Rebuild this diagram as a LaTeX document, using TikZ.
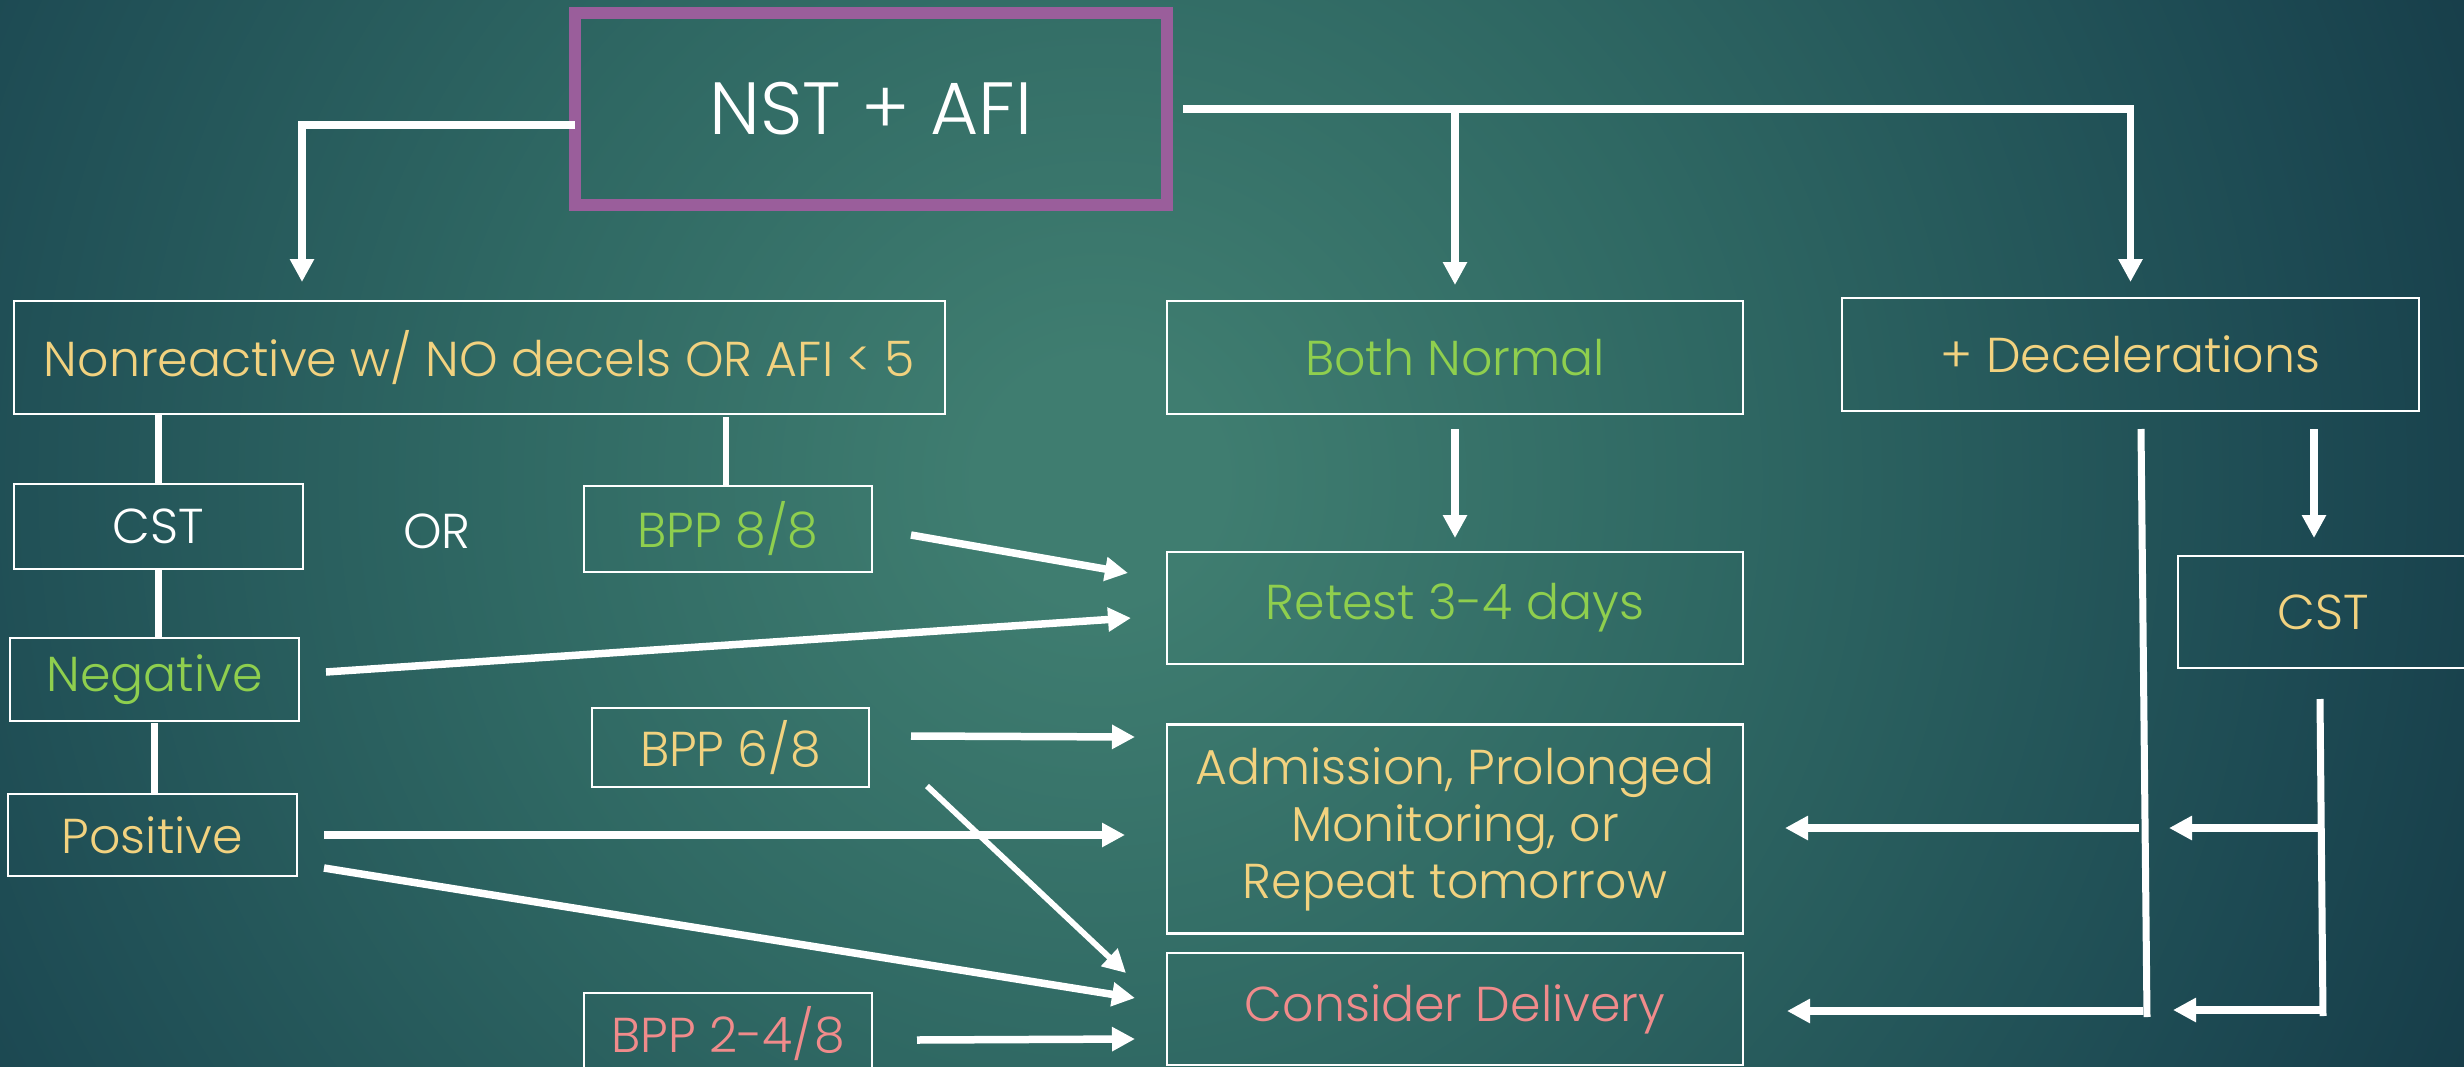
\documentclass[tikz,border=0pt]{standalone}
\usepackage{fontspec}
\setmainfont{Poppins}[UprightFont=* Light]
\usetikzlibrary{arrows.meta,calc}
\definecolor{bgA}{HTML}{3F7D70}
\definecolor{bgB}{HTML}{2F6863}
\definecolor{bgC}{HTML}{1D4A53}
\definecolor{bgD}{HTML}{143845}
\definecolor{bgE}{HTML}{10323F}
\definecolor{tyellow}{HTML}{F2D27F}
\definecolor{tgreen}{HTML}{8FCF4E}
\definecolor{tpink}{HTML}{F08B8B}
\definecolor{tpurple}{HTML}{9A5E9B}
\pgfdeclareradialshading{bgshade}{\pgfpoint{0bp}{0bp}}{color(0bp)=(bgA); color(2bp)=(bgA); color(10.2bp)=(bgB); color(20.2bp)=(bgC); color(26.5bp)=(bgD); color(32bp)=(bgE); color(50bp)=(bgE)}
\tikzset{
  box/.style={draw=white, line width=1.25pt, inner sep=0pt, outer sep=0pt, font=\fontsize{24.5pt}{28pt}\selectfont, align=center},
  conn/.style={draw=white, line width=3.25pt},
  arr/.style={draw=white, line width=3.75pt, line join=miter, -{Triangle[width=11.5pt,length=11.5pt]}},
}
\begin{document}
\begin{tikzpicture}[x=0.5pt,y=-0.5pt]
\useasboundingbox (0,0) rectangle (2464,1066);
\begin{scope}
\clip (0,0) rectangle (2464,1066);
\shade[shading=bgshade] (-400,-1020) rectangle (2600,1980);
\end{scope}

% nodes
\node[box, draw=tpurple, line width=6pt, minimum width=296pt, minimum height=95.75pt, text=white, font=\fontsize{37pt}{42pt}\selectfont] (nst) at (871,109) {NST + AFI};
\node[box, minimum width=465.5pt, minimum height=56.5pt, text=tyellow] (nonr) at (479.5,357.5) {Nonreactive w/ NO decels OR AFI < 5};
\node[box, minimum width=144.5pt, minimum height=42.5pt, text=white] (cst1) at (158.5,526.5) {CST};
\node[box, minimum width=144pt, minimum height=43pt, text=tgreen] (bpp8) at (728,529) {BPP 8/8};
\node[box, draw=none, text=white] (ortext) at (437,531) {OR};
\node[box, minimum width=144.5pt, minimum height=41.5pt, text=tgreen] (neg) at (154.5,679.5) {Negative};
\node[box, minimum width=144.5pt, minimum height=41pt, text=tyellow] (pos) at (152.5,835) {Positive};
\node[box, minimum width=138.5pt, minimum height=39.5pt, text=tyellow] (bpp6) at (730.5,747.5) {BPP 6/8};
\node[box, minimum width=144pt, minimum height=41pt, text=tpink] (bpp24) at (728,1034) {BPP 2-4/8};
\node[box, minimum width=288pt, minimum height=56.5pt, text=tgreen] (normal) at (1455,357.5) {Both Normal};
\node[box, minimum width=288.5pt, minimum height=56.5pt, text=tyellow] (decel) at (2130.5,354.5) {+ Decelerations};
\node[box, minimum width=288pt, minimum height=56pt, text=tgreen] (retest) at (1455,608) {Retest 3-4 days};
\node[box, minimum width=288pt, minimum height=104.5pt, text=tyellow, font=\fontsize{24.5pt}{28.5pt}\selectfont] (adm) at (1455,829) {Admission, Prolonged\\Monitoring, or\\Repeat tomorrow};
\node[box, minimum width=288pt, minimum height=56pt, text=tpink] (cd) at (1455,1009) {Consider Delivery};
\node[box, minimum width=145pt, minimum height=56pt, text=tyellow] (cst2) at (2323,612) {CST};

% coordinates for free ends
\coordinate (k1) at (302,125);
\coordinate (dtop) at (2141,429);
\coordinate (dbot) at (2147,1017);
\coordinate (btop) at (2320,699);
\coordinate (bbot) at (2323,1016);
\coordinate (bj1) at (2321,828);
\coordinate (bj2) at (2323,1010);
\coordinate (lj1) at (2139,828);
\coordinate (lj2) at (2143,1011);

% top connectors
\draw[arr, shorten >=9.5pt] (nst.west |- k1) -- (k1) -- (k1 |- nonr.north);
\draw[arr, shorten >=8pt] ([xshift=8pt]nst.east) -- (decel.north |- nst.east) -- (decel.north);
\draw[arr, shorten >=8pt] (normal.north |- nst.east) -- (normal.north);

% left column
\draw[conn] (cst1.north |- nonr.south) -- (cst1.north);
\draw[conn] ($(bpp8.north |- nonr.south)+(-2,3)$) -- ($(bpp8.north)+(-2,0)$);
\draw[conn] (cst1.south) -- (cst1.south |- neg.north);
\draw[conn] ($(neg.south)+(0,2)$) -- (neg.south |- pos.north);

% arrows into middle column
\draw[arr] ($(bpp8.east)+(39,6)$) -- ($(retest.west)+(-39,-35)$);
\draw[arr] ($(neg.east)+(27,-7.5)$) -- ($(retest.west)+(-36,10)$);
\draw[arr] ($(bpp6.east)+(42,-11.5)$) -- ($(adm.west)+(-32,-92)$);
\draw[arr, line width=2.9pt] ($(bpp6.south east)+(58,-1)$) -- ($(cd.west)+(-41,-36)$);
\draw[arr] ($(pos.east)+(27,0)$) -- ($(adm.west)+(-42,6)$);
\draw[arr] ($(pos.east)+(27,33)$) -- ($(cd.west)+(-32,-11)$);
\draw[arr] ($(bpp24.east)+(45,6)$) -- ($(cd.west)+(-32,30)$);
\draw[arr] ($(normal.south)+(0,15)$) -- ($(retest.north)+(0,-14)$);

% right side
\draw[conn, line width=3.5pt] (dtop) -- (dbot);
\draw[arr] (lj1) -- ($(adm.east)+(42,-1)$);
\draw[arr] (lj2) -- ($(cd.east)+(44,2)$);
\draw[arr] ($(decel.south)+(183.5,18)$) -- ($(cst2.north)+(-9,-18)$);
\draw[conn, line width=3.5pt] (btop) -- (bbot);
\draw[arr] (bj1) -- ($(lj1)+(30,0)$);
\draw[arr] (bj2) -- ($(lj2)+(30,-1)$);
\end{tikzpicture}
\end{document}
